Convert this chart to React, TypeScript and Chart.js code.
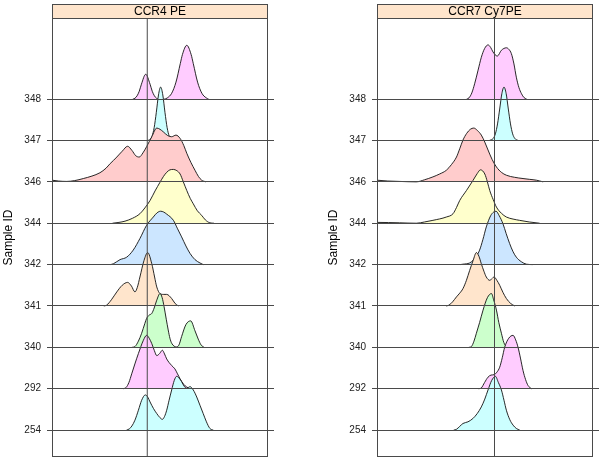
import React, { useEffect, useRef } from 'react';
import { Chart, registerables } from 'chart.js';

Chart.register(...registerables);

const FONT = "'Liberation Sans', Arial, Helvetica, sans-serif";
Chart.defaults.font.family = FONT;

// ---- categories / labels ----
const SAMPLES = ['254', '292', '340', '341', '342', '344', '346', '347', '348'];
const FILLS = ['#CCFFFF', '#FFCCFF', '#CCFFCC', '#FFE5CC', '#CCE6FF', '#FFFFCC', '#FFCCCC', '#CCFFFF', '#FFCCFF'];
const PANEL_TITLES = ['CCR4 PE', 'CCR7 Cy7PE'];
const Y_TITLE = 'Sample ID';

// ---- axis ranges ----
const X_MIN = 0;
const X_MAX = 100;
const Y_MIN = 0.35;
const Y_MAX = 10.96;

// ---- threshold (vertical reference line) ----
const CCR4_THRESHOLD = 44.1;
const CCR7_THRESHOLD = 54.4;

// ---- CCR4 PE densities: [x, density] ----
const CCR4_254: [number, number][] = [[34.5,0],[35.8,0.03],[37,0.1],[38.4,0.24],[40,0.48],[41.5,0.72],[43.2,0.85],[44.3,0.8],[45.4,0.68],[47,0.52],[48.5,0.4],[50,0.3],[51.1,0.26],[52.1,0.33],[53.1,0.48],[54.2,0.72],[55.4,0.97],[56.6,1.2],[57.7,1.3],[58.8,1.26],[60,1.17],[61.2,1.06],[62.4,1.01],[63.9,1.05],[65.4,0.97],[67,0.8],[68.5,0.6],[70,0.4],[71.5,0.2],[73.1,0.04],[74.7,0]];
const CCR4_292: [number, number][] = [[33,0],[34.3,0.03],[35.6,0.15],[36.9,0.36],[38.5,0.62],[40,0.85],[42.3,1.17],[43.8,1.29],[45,1.22],[46.2,1.09],[47.4,0.92],[48.5,0.8],[49.8,0.85],[51.1,0.93],[52.1,0.84],[53.1,0.72],[55.4,0.56],[56.9,0.48],[58.1,0.36],[59.3,0.24],[60.9,0.11],[62.4,0.04],[63.9,0]];
const CCR4_340: [number, number][] = [[37,0],[38.4,0.02],[40,0.15],[41.5,0.34],[43,0.58],[43.8,0.7],[45,0.78],[46.2,0.82],[47.3,0.95],[48.5,1.14],[50,1.3],[51,1.2],[51.9,0.98],[52.9,0.68],[53.8,0.42],[54.6,0.22],[55.4,0.1],[57.7,0.01],[58.8,0.06],[60,0.26],[62,0.55],[64.2,0.64],[66.2,0.4],[67.7,0.2],[69,0.06],[70.4,0]];
const CCR4_341: [number, number][] = [[24,0],[25.3,0.02],[27.5,0.15],[30,0.34],[32.5,0.5],[35,0.57],[36.8,0.48],[38.4,0.34],[39.5,0.45],[40.7,0.7],[42.6,1.1],[44.3,1.29],[46.2,1.02],[47.5,0.7],[48.5,0.46],[50,0.3],[51.5,0.28],[53.1,0.28],[55.4,0.18],[57,0.06],[58.5,0]];
const CCR4_342: [number, number][] = [[27,0],[28.4,0.02],[31.5,0.12],[34.6,0.18],[37.6,0.35],[40.7,0.63],[43.8,0.95],[46.9,1.15],[48.6,1.25],[50.3,1.29],[51.7,1.27],[53.1,1.22],[56.2,1.07],[58,0.88],[60,0.67],[62,0.45],[63.9,0.27],[66.2,0.12],[68.5,0.04],[70,0]];
const CCR4_344: [number, number][] = [[28,0],[31,0.02],[33.8,0.05],[37.3,0.12],[40.7,0.23],[43,0.37],[45.4,0.55],[47.7,0.78],[50,0.99],[51.6,1.13],[53.1,1.23],[54.6,1.29],[56.2,1.3],[57.8,1.27],[59.3,1.19],[60.8,1],[62.4,0.79],[64,0.6],[65.4,0.47],[67.3,0.3],[69.3,0.19],[71,0.08],[73.1,0.01],[75,0]];
const CCR4_346: [number, number][] = [[-3,0.05],[0,0.04],[3,0.02],[6.8,0.01],[10.5,0.03],[14.5,0.08],[18.5,0.14],[22.2,0.22],[25,0.33],[26.9,0.44],[28.5,0.52],[30,0.6],[32.5,0.74],[35,0.86],[37,0.76],[38.8,0.63],[40.4,0.6],[42.1,0.7],[43.8,0.85],[46.2,1.09],[48.5,1.3],[50,1.27],[51.5,1.21],[53.5,1.12],[55.4,1.09],[57.4,1.13],[59.3,1.05],[61,0.88],[62.4,0.69],[64.3,0.47],[66.2,0.28],[67.8,0.13],[69.3,0.04],[71.3,0]];
const CCR4_347: [number, number][] = [[44,0],[45.3,0.02],[46.3,0.1],[47.3,0.31],[48.3,0.68],[49.3,1.1],[50.3,1.29],[51.3,1.1],[52.3,0.68],[53.3,0.31],[54.3,0.1],[55.3,0.02],[56.5,0]];
const CCR4_348: [number, number][] = [[37.4,0],[38.4,0.02],[39.4,0.08],[40.4,0.19],[41.4,0.36],[43.4,0.6],[45.4,0.36],[46.4,0.19],[47.4,0.08],[48.4,0.02],[49.5,0],[52,0],[53.4,0.03],[55.4,0.14],[57.4,0.41],[59.4,0.86],[60.4,1.08],[62.4,1.3],[64.4,1.08],[65.4,0.86],[67.4,0.41],[69.4,0.14],[71.4,0.03],[72.5,0]];

// ---- CCR7 Cy7PE densities: [x, density] ----
const CCR7_254: [number, number][] = [[35.5,0],[36.8,0.02],[38.3,0.09],[39.8,0.16],[42.1,0.2],[44.4,0.28],[46.4,0.4],[48.3,0.56],[49.9,0.75],[51.4,0.97],[53.1,1.2],[54.8,1.3],[56.2,1.15],[57.6,0.97],[58.8,0.72],[59.9,0.48],[61.5,0.25],[63,0.12],[64.5,0.04],[66.1,0]];
const CCR7_292: [number, number][] = [[47,0],[48.3,0.02],[49.8,0.15],[51.4,0.28],[52.8,0.33],[54.2,0.34],[55.5,0.4],[56.8,0.52],[58,0.75],[59.1,1],[61,1.22],[63,1.29],[64.2,1.18],[65.3,1],[66.5,0.72],[67.6,0.44],[68.8,0.22],[69.9,0.08],[71.5,0]];
const CCR7_340: [number, number][] = [[42.5,0],[43.7,0.02],[44.9,0.15],[46,0.34],[47.5,0.6],[49.1,0.9],[51.1,1.2],[53,1.3],[54,1.15],[55.3,0.9],[56.4,0.6],[57.6,0.34],[58.7,0.12],[59.9,0.02],[61,0]];
const CCR7_341: [number, number][] = [[32,0],[33.3,0.02],[35,0.1],[36.8,0.22],[38.3,0.31],[39.8,0.42],[41.4,0.62],[42.9,0.86],[44.5,1.1],[46,1.29],[47.2,1.2],[48.3,1.02],[49.5,0.84],[50.6,0.7],[52.2,0.62],[53.2,0.66],[54.2,0.7],[55.5,0.62],[56.8,0.5],[58.3,0.33],[59.9,0.18],[61.9,0.06],[63.8,0]];
const CCR7_342: [number, number][] = [[38.5,0],[39.8,0.01],[42.9,0.04],[44.4,0.1],[46,0.2],[47.5,0.35],[49,0.6],[50.6,0.91],[52.6,1.18],[54,1.27],[55.1,1.29],[56.6,1.18],[58.3,0.99],[59.8,0.75],[61.4,0.51],[63,0.31],[64.5,0.18],[66.8,0.07],[69.2,0.01],[72.1,0]];
const CCR7_344: [number, number][] = [[-3,0.02],[0,0.02],[10.5,0.01],[18.2,0],[22,0.03],[25.9,0.07],[32.1,0.15],[35.2,0.23],[36.8,0.38],[38.3,0.55],[41.4,0.79],[44.4,1.03],[46.4,1.2],[47.9,1.29],[49.9,1.19],[51.1,1],[52.2,0.79],[53.8,0.57],[55.3,0.39],[57.6,0.24],[59.9,0.15],[63,0.1],[66,0.07],[70.5,0.03],[75.3,0]];
const CCR7_346: [number, number][] = [[-3,0.05],[0,0.04],[5,0.02],[10.5,0.01],[18.2,0],[22,0.05],[25.9,0.12],[29,0.19],[32.1,0.28],[34.5,0.42],[36.8,0.6],[38.3,0.8],[39.8,1.01],[41.5,1.17],[43.2,1.27],[44.8,1.3],[46.5,1.24],[48.3,1.13],[49.9,0.96],[51.4,0.77],[53.3,0.54],[55.3,0.36],[57.6,0.23],[59.9,0.16],[63.7,0.11],[67.6,0.08],[70.7,0.06],[73.8,0.04],[76.9,0]];
const CCR7_347: [number, number][] = [[52,0],[53.8,0.05],[54.8,0.16],[55.8,0.4],[56.8,0.76],[57.8,1.13],[58.8,1.29],[59.8,1.13],[60.8,0.76],[61.8,0.4],[62.8,0.16],[63.8,0.05],[65.3,0]];
const CCR7_348: [number, number][] = [[41.5,0],[42.6,0.03],[43.9,0.15],[45.2,0.37],[46.8,0.7],[48.3,1.01],[49.8,1.22],[51.4,1.31],[52.6,1.25],[53.7,1.14],[55.7,1.04],[57.6,1.18],[59.9,1.24],[61.1,1.2],[62.2,1.1],[63.4,0.85],[64.5,0.53],[65.7,0.28],[66.9,0.13],[68,0.04],[69.3,0]];

const CCR4_DENSITIES = [CCR4_254, CCR4_292, CCR4_340, CCR4_341, CCR4_342, CCR4_344, CCR4_346, CCR4_347, CCR4_348];
const CCR7_DENSITIES = [CCR7_254, CCR7_292, CCR7_340, CCR7_341, CCR7_342, CCR7_344, CCR7_346, CCR7_347, CCR7_348];

const LINE = '#4a4a4a';
const STRIP_FILL = '#FFE5CC';
const STRIP_H = 14;

const stripPlugin = {
  id: 'stripFrame',
  afterDraw(chart: any, _args: any, opts: any) {
    const { ctx, chartArea: a } = chart;
    const top = a.top - STRIP_H;
    ctx.save();
    ctx.fillStyle = STRIP_FILL;
    ctx.fillRect(a.left, top, a.right - a.left, STRIP_H);
    ctx.strokeStyle = LINE;
    ctx.lineWidth = 1;
    const l = Math.round(a.left) + 0.5;
    const r = Math.round(a.right) - 0.5;
    ctx.strokeRect(l, Math.round(top) + 0.5, r - l, STRIP_H);
    ctx.strokeRect(l, Math.round(a.top) + 0.5, r - l, Math.round(a.bottom) - Math.round(a.top) - 1);
    ctx.fillStyle = '#000';
    ctx.font = `12px ${FONT}`;
    ctx.textAlign = 'center';
    ctx.textBaseline = 'middle';
    ctx.fillText(opts.text, (a.left + a.right) / 2, top + STRIP_H / 2 + 1);
    ctx.restore();
  },
};

function buildConfig(title: string, densities: [number, number][][], threshold: number, padLeft: number, padRight: number, axisW: number): any {
  const datasets: any[] = densities.map((pts, i) => ({
    label: SAMPLES[i],
    data: pts.map(([x, d]) => ({ x, y: i + 1 + d })),
    fill: { value: i + 1 },
    backgroundColor: FILLS[i],
    borderColor: '#111',
    borderWidth: 0.9,
    pointRadius: 0,
    cubicInterpolationMode: 'monotone',
    order: i + 1,
  }));
  datasets.push({
    label: 'threshold',
    data: [{ x: threshold, y: Y_MIN }, { x: threshold, y: Y_MAX }],
    fill: false,
    borderColor: LINE,
    borderWidth: 1,
    pointRadius: 0,
    order: 0,
  });
  const setTicks = (s: any) => {
    s.ticks = SAMPLES.map((_, i) => ({ value: i + 1 }));
  };
  return {
    type: 'line',
    data: { datasets },
    plugins: [stripPlugin],
    options: {
      responsive: false,
      animation: false,
      events: [],
      layout: { padding: { left: padLeft, right: padRight, top: 18, bottom: 4 } },
      plugins: {
        legend: { display: false },
        tooltip: { enabled: false },
        stripFrame: { text: title },
      },
      scales: {
        x: { type: 'linear', min: X_MIN, max: X_MAX, display: false },
        y: {
          type: 'linear',
          position: 'left',
          min: Y_MIN,
          max: Y_MAX,
          afterBuildTicks: setTicks,
          afterFit: (s: any) => { s.width = axisW; s.paddingTop = 0; s.paddingBottom = 0; },
          ticks: {
            autoSkip: false,
            padding: 6,
            color: '#222',
            font: { size: 10, family: FONT },
            callback: (_v: any, idx: number) => SAMPLES[idx],
          },
          grid: { color: LINE, lineWidth: 1, tickLength: 5, drawTicks: true, z: 1 },
          border: { display: false },
          title: { display: true, text: Y_TITLE, color: '#000', font: { size: 12, family: FONT }, padding: { top: 1, bottom: 0 } },
        },
        y2: {
          type: 'linear',
          position: 'right',
          min: Y_MIN,
          max: Y_MAX,
          afterBuildTicks: setTicks,
          afterFit: (s: any) => { s.width = 6; s.paddingTop = 0; s.paddingBottom = 0; },
          ticks: { display: false },
          grid: { color: LINE, lineWidth: 1, tickLength: 6, drawOnChartArea: false, drawTicks: true, z: 1 },
          border: { display: false },
        },
      },
    },
  };
}

function Panel(props: { title: string; densities: [number, number][][]; threshold: number; left: number; width: number; padLeft: number; padRight: number; axisW: number }) {
  const ref = useRef<HTMLCanvasElement>(null);
  useEffect(() => {
    const chart = new Chart(ref.current as HTMLCanvasElement, buildConfig(props.title, props.densities, props.threshold, props.padLeft, props.padRight, props.axisW));
    return () => chart.destroy();
  }, []);
  return (
    <canvas
      ref={ref}
      width={props.width}
      height={461}
      style={{ position: 'absolute', left: props.left, top: 0, width: props.width, height: 461 }}
    />
  );
}

export default function App() {
  return (
    <div style={{ position: 'absolute', left: 0, top: 0, width: 603, height: 461, background: '#fff' }}>
      <Panel title={PANEL_TITLES[0]} densities={CCR4_DENSITIES} threshold={CCR4_THRESHOLD} left={0} width={300} padLeft={0} padRight={26} axisW={52} />
      <Panel title={PANEL_TITLES[1]} densities={CCR7_DENSITIES} threshold={CCR7_THRESHOLD} left={300} width={303} padLeft={25} padRight={4} axisW={52} />
    </div>
  );
}
